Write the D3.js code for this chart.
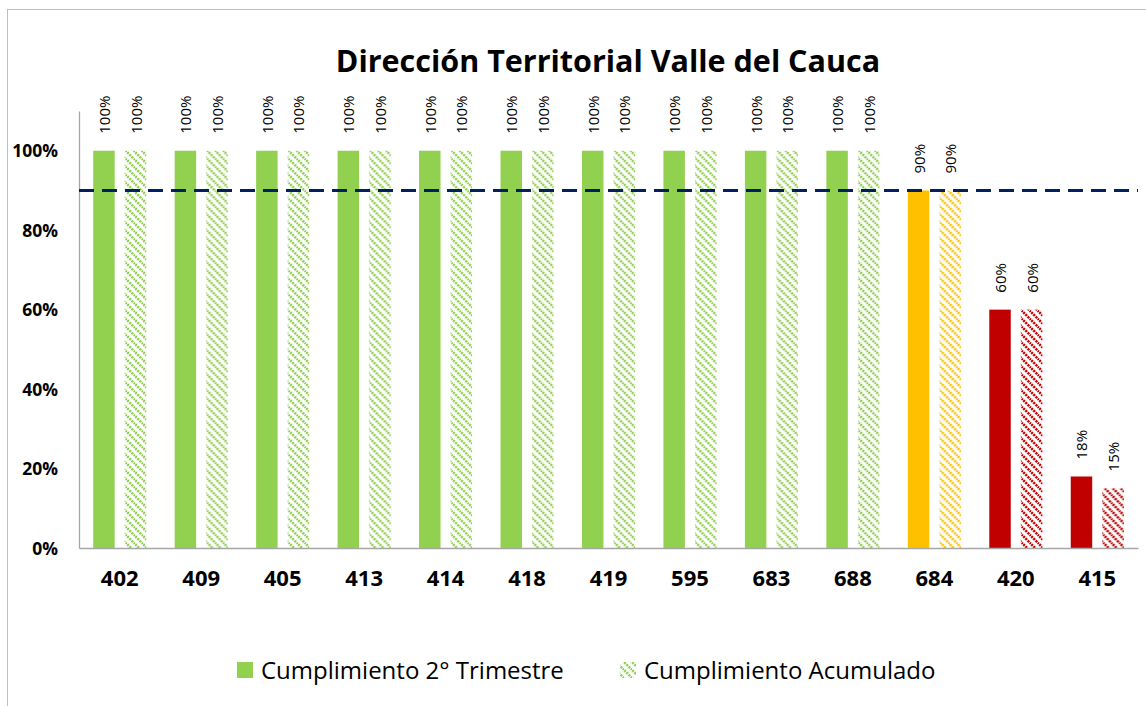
<!DOCTYPE html>
<html lang="en">
<head>
<meta charset="utf-8">
<style>
  body { margin: 0; background: #fff; }
  .title_text { font-family: "Open Sans", sans-serif; font-size: 30.5px; font-weight: bold; fill: #000; }
  .axis_y text { font-family: "Open Sans", sans-serif; font-size: 17.5px; font-weight: bold; fill: #000; }
  .axis_x text { font-family: "Open Sans", sans-serif; font-size: 22px; font-weight: bold; fill: #000; }
  .bar_label { font-family: "Open Sans", sans-serif; font-size: 15px; fill: #000; }
  .legend_text { font-family: "Open Sans", sans-serif; font-size: 24px; fill: #000; }
</style>
</head>
<body>
<div id="graph"></div>
<script src="https://cdn.jsdelivr.net/npm/d3@7"></script>
<script>
var codes = ["402", "409", "405", "413", "414", "418", "419", "595", "683", "688", "684", "420", "415"];
var trimestre = [1, 1, 1, 1, 1, 1, 1, 1, 1, 1, 0.9, 0.6, 0.18];
var acumulado = [1, 1, 1, 1, 1, 1, 1, 1, 1, 1, 0.9, 0.6, 0.15];
var barColors = ["#92D050", "#92D050", "#92D050", "#92D050", "#92D050", "#92D050", "#92D050", "#92D050", "#92D050", "#92D050", "#FFC000", "#C00000", "#C00000"];
var yTicks = [0, 0.2, 0.4, 0.6, 0.8, 1];
var meta = 0.9;
var seriesNames = ["Cumplimiento 2° Trimestre", "Cumplimiento Acumulado"];

var W = 1146, H = 706;
var margin = {top: 111, left: 79, right: 8, bottom: 158};

var svg = d3.select("#graph").append("svg")
    .attr("width", W).attr("height", H);

// hatch patterns, one per colour
var defs = svg.append("defs");
["#92D050", "#FFC000", "#C00000"].forEach(function(c) {
    var p = defs.append("pattern")
        .attr("id", "hatch" + c.slice(1))
        .attr("patternUnits", "userSpaceOnUse")
        .attr("width", 8).attr("height", 8);
    p.append("path")
        .attr("d", "M-2,-2 L10,10 M6,-2 L10,2 M-2,6 L2,10")
        .attr("stroke", c)
        .attr("stroke-width", 2.6)
        .attr("stroke-dasharray", "2.2,0.9");
});

svg.append("rect")
    .attr("x", 7.5).attr("y", 9.5)
    .attr("width", W).attr("height", H)
    .attr("fill", "none").attr("stroke", "#bfbfbf");

var x = d3.scaleBand().domain(codes)
    .range([margin.left, W - margin.right]);
var inner = d3.scaleBand().domain([0, 1])
    .range([0, x.bandwidth()]).paddingInner(0.32).paddingOuter(0.45);
var y = d3.scaleLinear().domain([0, 1.1])
    .range([H - margin.bottom, margin.top]);

svg.append("text")
    .attr("class", "title_text")
    .attr("x", 608).attr("y", 72)
    .attr("text-anchor", "middle")
    .text("Dirección Territorial Valle del Cauca");

// y axis
var yAxis = svg.append("g")
    .attr("class", "axis_y")
    .attr("transform", "translate(" + margin.left + ",0)")
    .call(d3.axisLeft(y).tickValues(yTicks).tickFormat(d3.format(".0%")).tickSize(0).tickPadding(21));
yAxis.select(".domain").attr("stroke", "#a6a6a6").attr("stroke-width", 1.3);
yAxis.selectAll("text").attr("dy", "0.35em");

// bars
var rows = codes.map(function(c, i) {
    return {code: c, vals: [trimestre[i], acumulado[i]], color: barColors[i]};
});
var groups = svg.selectAll(".grp").data(rows).enter().append("g")
    .attr("class", "grp")
    .attr("transform", function(d) { return "translate(" + x(d.code) + ",0)"; });

groups.selectAll("rect").data(function(d) {
    return d.vals.map(function(v, k) { return {k: k, v: v, color: d.color}; });
}).enter().append("rect")
    .attr("x", function(d) { return inner(d.k); })
    .attr("width", inner.bandwidth())
    .attr("y", function(d) { return y(d.v); })
    .attr("height", function(d) { return y(0) - y(d.v); })
    .attr("fill", function(d) { return d.k === 0 ? d.color : "url(#hatch" + d.color.slice(1) + ")"; });

groups.selectAll(".bar_label").data(function(d) {
    return d.vals.map(function(v, k) { return {k: k, v: v}; });
}).enter().append("text")
    .attr("class", "bar_label")
    .attr("transform", function(d) {
        return "translate(" + (inner(d.k) + inner.bandwidth() / 2 + 6) + "," + (y(d.v) - 17) + ") rotate(-90)";
    })
    .text(function(d) { return d3.format(".0%")(d.v); });

// x axis
var xAxis = svg.append("g")
    .attr("class", "axis_x")
    .attr("transform", "translate(0," + y(0) + ")")
    .call(d3.axisBottom(x).tickSize(0).tickPadding(22));
xAxis.select(".domain").attr("stroke", "#a6a6a6").attr("stroke-width", 1.3);

// target line
svg.append("line")
    .attr("x1", margin.left).attr("x2", W - margin.right)
    .attr("y1", y(meta)).attr("y2", y(meta))
    .attr("stroke", "#002060").attr("stroke-width", 3)
    .attr("stroke-dasharray", "15,8");

// legend
var leg = svg.append("g").attr("transform", "translate(0,670)");
var legX = [237, 620];
seriesNames.forEach(function(n, k) {
    leg.append("rect")
        .attr("x", legX[k]).attr("y", -8)
        .attr("width", 16).attr("height", 16)
        .attr("fill", k === 0 ? "#92D050" : "url(#hatch92D050)");
    leg.append("text")
        .attr("class", "legend_text")
        .attr("x", legX[k] + 24).attr("y", 9)
        .text(n);
});
</script>
</body>
</html>
